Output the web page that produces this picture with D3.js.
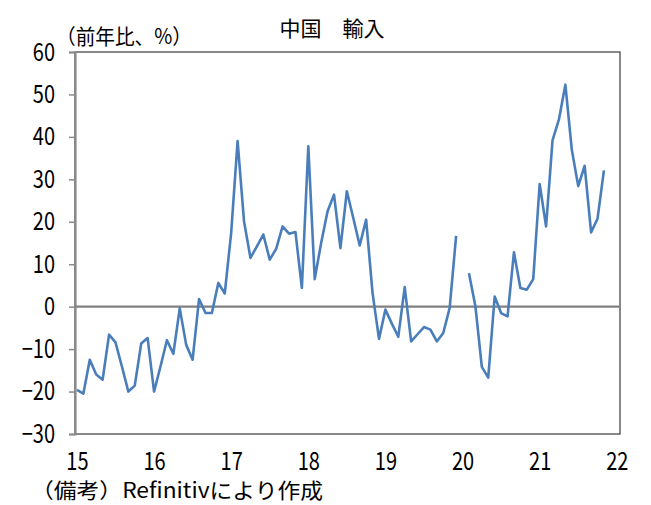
<!DOCTYPE html>
<html>
<head>
<meta charset="utf-8">
<script src="https://cdn.jsdelivr.net/npm/d3@7"></script>
<style>
  body { margin: 0; background: #fff; }
  text { font-family: "Noto Sans CJK JP", sans-serif; fill: #000; }
</style>
</head>
<body>
<script>
// chart values, monthly from Jan 2015 (null = not reported)
var startYear = 2015;
var imports = [
  -19.6, -20.5, -12.5, -16.0, -17.2, -6.6, -8.4, -14.1, -20.0, -18.6, -8.7, -7.4,
  -20.0, -14.1, -7.9, -11.1, -0.4, -9.0, -12.5, 1.8, -1.5, -1.5, 5.6, 3.1,
  17.4, 39.0, 20.1, 11.5, 14.2, 17.0, 11.1, 13.6, 18.9, 17.2, 17.6, 4.4,
  37.8, 6.5, 15.0, 22.5, 26.4, 13.8, 27.2, 20.9, 14.4, 20.5, 3.2, -7.6,
  -0.7, -4.0, -7.1, 4.6, -8.2, -6.5, -4.8, -5.4, -8.2, -6.2, -0.3, 16.7,
  null, 7.9, 0.1, -14.2, -16.7, 2.4, -1.5, -2.3, 12.8, 4.4, 4.0, 6.5,
  28.9, 18.9, 39.2, 44.1, 52.3, 37.0, 28.4, 33.2, 17.5, 20.7, 32.1
];
var yearLabels = ["15", "16", "17", "18", "19", "20", "21", "22"];
var yTicks = [-30, -20, -10, 0, 10, 20, 30, 40, 50, 60];

var svgWidth = 651;
var svgHeight = 505;

// plot box
var plot = { left: 75, right: 620, top: 52, bottom: 434 };

var svg = d3.select("body")
  .append("svg")
  .attr("width", svgWidth)
  .attr("height", svgHeight);

var x = d3.scaleLinear()
  .domain([-0.3, 84.5])
  .range([plot.left, plot.right]);

var y = d3.scaleLinear()
  .domain([-30, 60])
  .range([plot.bottom, plot.top]);

// border of plot area
svg.append("rect")
  .attr("x", plot.left)
  .attr("y", plot.top)
  .attr("width", plot.right - plot.left)
  .attr("height", plot.bottom - plot.top)
  .attr("fill", "none")
  .attr("stroke", "#3a3a3a")
  .attr("stroke-width", 1.2);

// y axis
var leftAxis = d3.axisLeft(y)
  .tickValues(yTicks)
  .tickSize(6)
  .tickPadding(15)
  .tickFormat(d => d < 0 ? "\u2212" + Math.abs(d) : d);

var yAxisG = svg.append("g")
  .attr("transform", `translate(${plot.left}, 0)`)
  .call(leftAxis);
yAxisG.select(".domain").attr("stroke", "#8a8a8a").attr("stroke-width", 2.2);
yAxisG.selectAll(".tick line").attr("stroke", "#8a8a8a").attr("stroke-width", 1.5);
yAxisG.selectAll(".tick text")
  .attr("font-size", 25)
  .attr("font-family", "Noto Sans CJK JP")
  .attr("fill", "#000")
  .attr("transform", "scale(0.8,1)")
  .attr("x", -20 / 0.8);

// x axis labels (no ticks)
var monthTicks = yearLabels.map((d, i) => i * 12);
var bottomAxis = d3.axisBottom(x)
  .tickValues(monthTicks)
  .tickSize(0)
  .tickPadding(18)
  .tickFormat((d, i) => yearLabels[i]);

var xAxisG = svg.append("g")
  .attr("transform", `translate(0, ${plot.bottom})`)
  .call(bottomAxis);
xAxisG.select(".domain").remove();
xAxisG.selectAll(".tick text")
  .attr("font-size", 25)
  .attr("font-family", "Noto Sans CJK JP")
  .attr("fill", "#000")
  .attr("transform", "scale(0.8,1)");

// zero line
svg.append("line")
  .attr("x1", plot.left)
  .attr("x2", plot.right)
  .attr("y1", y(0))
  .attr("y2", y(0))
  .attr("stroke", "#808080")
  .attr("stroke-width", 2.2);

// the series
var line = d3.line()
  .defined(d => d != null)
  .x((d, i) => x(i))
  .y(d => y(d));

svg.append("path")
  .datum(imports)
  .attr("d", line)
  .attr("fill", "none")
  .attr("stroke", "#4a7ebb")
  .attr("stroke-width", 2.6)
  .attr("stroke-linejoin", "round");

// title and notes
svg.append("text")
  .attr("x", 332)
  .attr("y", 36)
  .attr("text-anchor", "middle")
  .attr("font-size", 21)
  .text("中国　輸入");

svg.append("text")
  .attr("x", 56)
  .attr("y", 44)
  .attr("font-size", 21)
  .attr("textLength", 136)
  .attr("lengthAdjust", "spacingAndGlyphs")
  .text("（前年比、%）");

svg.append("text")
  .attr("x", 31)
  .attr("y", 498)
  .attr("font-size", 21)
  .attr("textLength", 292)
  .attr("lengthAdjust", "spacingAndGlyphs")
  .text("（備考）Refinitivにより作成");
</script>
</body>
</html>
